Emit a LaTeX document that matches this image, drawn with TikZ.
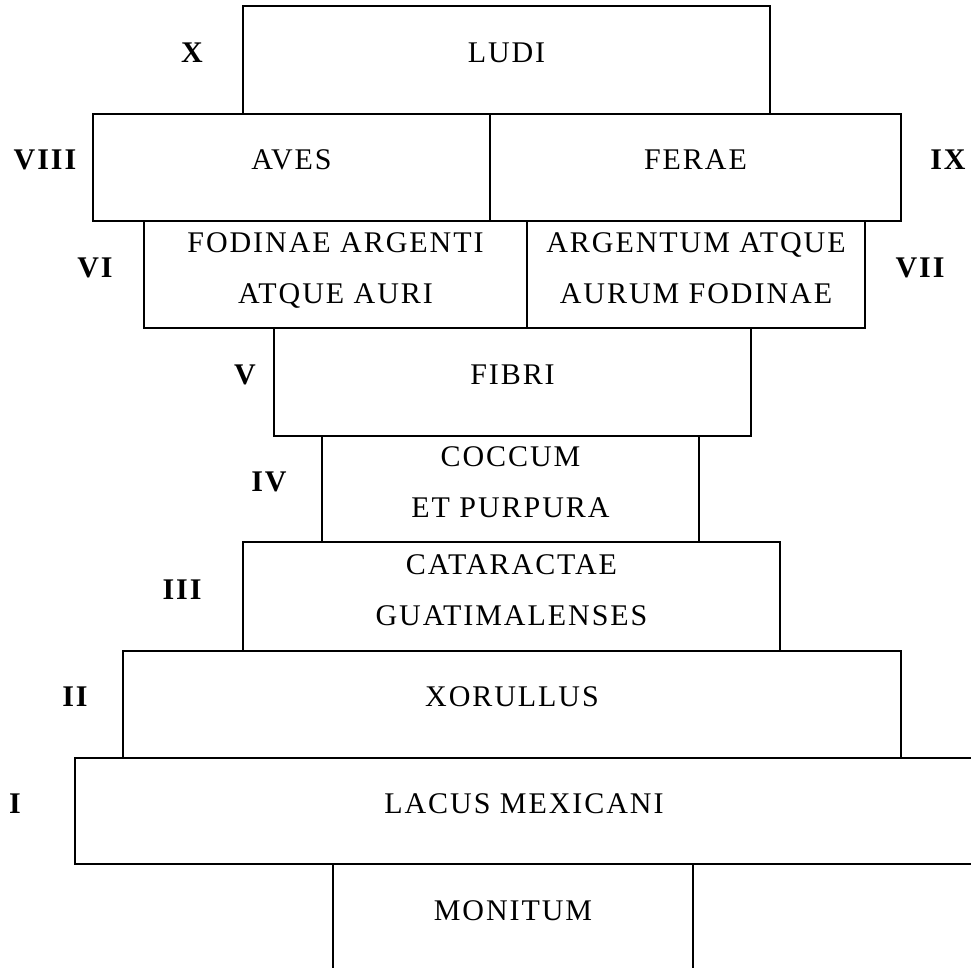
\documentclass[tikz,border=0pt]{standalone}
\usepackage{fontspec}
\setmainfont{Liberation Serif}[LetterSpace=6.5]
\usetikzlibrary{fit}
\begin{document}
\begin{tikzpicture}[x=1pt,y=-1pt,
  box/.style={draw, line width=2pt, inner sep=0pt},
  txt/.style={anchor=base, inner sep=0pt, font=\fontsize{30}{36}\selectfont},
  num/.style={anchor=base, inner sep=0pt, font=\fontsize{30}{36}\selectfont\bfseries},
  side/.style={line width=2pt}]
\useasboundingbox (0,0) rectangle (971,968);
\clip (0,0) rectangle (971,968);
% boxes
\node[box, fit={(243,6) (770,114)}] (ludi) {};
\node[box, fit={(93,114) (490,221)}] (aves) {};
\node[box, fit={(490,114) (901,221)}] (ferae) {};
\node[box, fit={(144,221) (527,328)}] (fodinae) {};
\node[box, fit={(527,221) (865,328)}] (argentum) {};
\node[box, fit={(274,328) (751,436)}] (fibri) {};
\node[box, fit={(322,436) (699,542)}] (coccum) {};
\node[box, fit={(243,542) (780,651)}] (cataractae) {};
\node[box, fit={(123,651) (901,758)}] (xorullus) {};
\node[box, fit={(75,758) (973,864)}] (lacus) {};
\node[inner sep=0pt, fit={(333,864) (693,990)}] (monitum) {};
\draw[side] (monitum.north west) -- (monitum.south west);
\draw[side] (monitum.north east) -- (monitum.south east);
% texts
\node[txt, yshift=-2.2pt] (t-ludi) at (ludi.center) {LUDI};
\node[txt, yshift=-2.2pt] (t-aves) at (aves.center) {AVES};
\node[txt, yshift=-2.2pt] (t-ferae) at (ferae.center) {FERAE};
\node[txt, yshift=22.3pt] (t-fod1) at (fodinae.center) {FODINAE ARGENTI};
\node[txt, yshift=-28.7pt] (t-fod2) at (fodinae.center) {ATQUE AURI};
\node[txt, yshift=22.3pt] (t-arg1) at (argentum.center) {ARGENTUM ATQUE};
\node[txt, yshift=-28.7pt] (t-arg2) at (argentum.center) {AURUM FODINAE};
\node[txt, yshift=-2.2pt] (t-fibri) at (fibri.center) {FIBRI};
\node[txt, yshift=22.3pt] (t-coc1) at (coccum.center) {COCCUM};
\node[txt, yshift=-28.7pt] (t-coc2) at (coccum.center) {ET PURPURA};
\node[txt, yshift=22.3pt] (t-cat1) at (cataractae.center) {CATARACTAE};
\node[txt, yshift=-28.7pt] (t-cat2) at (cataractae.center) {GUATIMALENSES};
\node[txt, yshift=-2.2pt] (t-xor) at (xorullus.center) {XORULLUS};
\node[txt, yshift=-2.2pt] (t-lacus) at (lacus.center) {LACUS MEXICANI};
\node[txt] (t-mon) at (513,920.5) {MONITUM};
% numerals
\node[num, yshift=-2.2pt] (n10) at (192,0 |- ludi.center) {X};
\node[num, yshift=-2.2pt] (n8) at (45,0 |- aves.center) {VIII};
\node[num, yshift=-2.2pt] (n9) at (948,0 |- ferae.center) {IX};
\node[num, yshift=-3pt] (n6) at (95,0 |- fodinae.center) {VI};
\node[num, yshift=-3pt] (n7) at (920,0 |- argentum.center) {VII};
\node[num, yshift=-2.2pt] (n5) at (245,0 |- fibri.center) {V};
\node[num, yshift=-2.5pt] (n4) at (269,0 |- coccum.center) {IV};
\node[num, yshift=-2.5pt] (n3) at (182,0 |- cataractae.center) {III};
\node[num, yshift=-2.2pt] (n2) at (75,0 |- xorullus.center) {II};
\node[num, yshift=-2.2pt] (n1) at (15,0 |- lacus.center) {I};
\end{tikzpicture}
\end{document}
